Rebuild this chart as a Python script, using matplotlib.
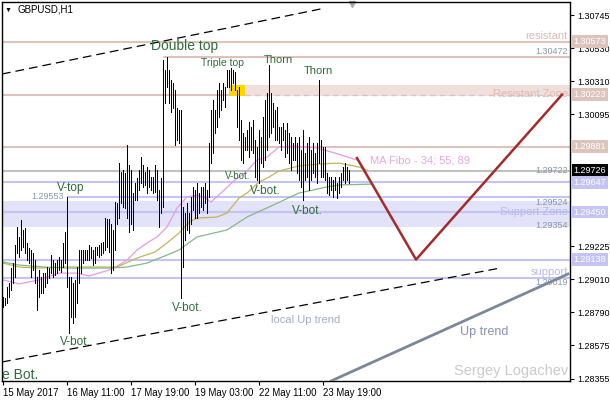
import matplotlib
matplotlib.use("Agg")
import matplotlib.pyplot as plt

plt.rcParams["font.family"] = ["Liberation Sans", "DejaVu Sans"]

# H1 bars, GBPUSD (high / low per bar)
highs = [
    1.28892, 1.28885, 1.28958, 1.28984, 1.29082, 1.29115, 1.29234, 1.29352, 1.29287, 1.29398,
    1.29333, 1.29346, 1.29247, 1.29214, 1.29201, 1.29181, 1.29135, 1.29023, 1.29069, 1.29023,
    1.29049, 1.29049, 1.29089, 1.29082, 1.29168, 1.29135, 1.29115, 1.29135, 1.29155, 1.29135,
    1.29247, 1.29320, 1.29553, 1.29023, 1.29023, 1.28984, 1.29004, 1.29089, 1.29201, 1.29201,
    1.29201, 1.29201, 1.29201, 1.29234, 1.29221, 1.29201, 1.29221, 1.29221, 1.29234, 1.29247,
    1.29254, 1.29411, 1.29405, 1.29405, 1.29372, 1.29333, 1.29517, 1.29510, 1.29773, 1.29714,
    1.29727, 1.29707, 1.29892, 1.29760, 1.29727, 1.29576, 1.29642, 1.29675, 1.29727, 1.29812,
    1.29760, 1.29714, 1.29747, 1.29727, 1.29681, 1.29681, 1.29760, 1.29727, 1.29596, 1.29675,
    1.30451, 1.30385, 1.30472, 1.30385, 1.30320, 1.30300, 1.30254, 1.30135, 1.30122, 1.30122,
    1.29484, 1.29444, 1.29510, 1.29444, 1.29550, 1.29616, 1.29596, 1.29642, 1.29576, 1.29616,
    1.29616, 1.29642, 1.29596, 1.29905, 1.30122, 1.30188, 1.30122, 1.30254, 1.30300, 1.30254,
    1.30300, 1.30274, 1.30385, 1.30385, 1.30399, 1.30385, 1.30372, 1.30254, 1.30274, 1.30056,
    1.29971, 1.29945, 1.29991, 1.30043, 1.30010, 1.30056, 1.29925, 1.29879, 1.29991, 1.29945,
    1.30076, 1.30188, 1.30234, 1.30418, 1.30234, 1.30168, 1.30122, 1.30142, 1.30010, 1.30010,
    1.30036, 1.29991, 1.30036, 1.29971, 1.29945, 1.29905, 1.29945, 1.29905, 1.29945, 1.29859,
    1.29991, 1.29839, 1.29905, 1.29945, 1.29859, 1.29905, 1.29839, 1.29905, 1.30320, 1.29925,
    1.29879, 1.29879, 1.29707, 1.29681, 1.29681, 1.29662, 1.29681, 1.29642, 1.29681, 1.29707,
    1.29747, 1.29773, 1.29747, 1.29727,
]
lows = [
    1.28826, 1.28839, 1.28852, 1.28892, 1.28938, 1.28984, 1.29023, 1.29181, 1.29155, 1.29201,
    1.29221, 1.29181, 1.29135, 1.29115, 1.29023, 1.29069, 1.28984, 1.28806, 1.28892, 1.28918,
    1.28918, 1.28958, 1.28984, 1.29017, 1.29049, 1.29023, 1.29036, 1.29049, 1.29069, 1.29056,
    1.29089, 1.29115, 1.28958, 1.28655, 1.28760, 1.28720, 1.28760, 1.28852, 1.28984, 1.29049,
    1.29115, 1.29135, 1.29135, 1.29135, 1.29148, 1.29102, 1.29115, 1.29168, 1.29155, 1.29168,
    1.29181, 1.29201, 1.29221, 1.29188, 1.29049, 1.29069, 1.29201, 1.29372, 1.29411, 1.29510,
    1.29484, 1.29477, 1.29411, 1.29320, 1.29372, 1.29333, 1.29530, 1.29530, 1.29596, 1.29642,
    1.29616, 1.29629, 1.29576, 1.29616, 1.29596, 1.29576, 1.29583, 1.29530, 1.29352, 1.29444,
    1.29484, 1.30168, 1.30274, 1.30168, 1.30109, 1.30135, 1.29892, 1.29925, 1.29905, 1.28885,
    1.29089, 1.29267, 1.29333, 1.29313, 1.29372, 1.29464, 1.29411, 1.29411, 1.29444, 1.29484,
    1.29464, 1.29510, 1.29444, 1.29550, 1.29773, 1.29839, 1.29971, 1.30010, 1.30076, 1.30122,
    1.30188, 1.30142, 1.30274, 1.30274, 1.30254, 1.30300, 1.30254, 1.30010, 1.29925, 1.29793,
    1.29773, 1.29859, 1.29859, 1.29813, 1.29859, 1.29839, 1.29681, 1.29662, 1.29642, 1.29773,
    1.29747, 1.29793, 1.29859, 1.29945, 1.29971, 1.30010, 1.29925, 1.29925, 1.29905, 1.29859,
    1.29925, 1.29813, 1.29839, 1.29773, 1.29727, 1.29793, 1.29793, 1.29707, 1.29662, 1.29616,
    1.29530, 1.29662, 1.29681, 1.29596, 1.29662, 1.29707, 1.29681, 1.29642, 1.29773, 1.29681,
    1.29681, 1.29662, 1.29576, 1.29563, 1.29596, 1.29550, 1.29596, 1.29543, 1.29576, 1.29616,
    1.29662, 1.29642, 1.29662, 1.29642,
]

# MA Fibo 34 / 55 / 89 (bar index, value)
ma34_idx = [0, 8, 18, 28, 37, 43, 53, 58, 62, 67, 72, 77, 82, 87, 92, 97, 101, 104, 109,
            116, 121, 127, 132, 138, 146, 157, 166, 177]
ma34_val = [1.29004, 1.28978, 1.29004, 1.29049, 1.29049, 1.29030, 1.29069, 1.29102, 1.29135,
            1.29201, 1.29247, 1.29287, 1.29352, 1.29477, 1.29550, 1.29563, 1.29543, 1.29517,
            1.29576, 1.29662, 1.29707, 1.29793, 1.29813, 1.29879, 1.29885, 1.29872, 1.29839,
            1.29793]
ma55_idx = [0, 8, 18, 32, 43, 57, 67, 76, 82, 88, 93, 97, 107, 112, 118, 122, 128, 133,
            138, 148, 158, 168, 178, 182]
ma55_val = [1.29115, 1.29089, 1.29082, 1.29089, 1.29089, 1.29089, 1.29148, 1.29188, 1.29247,
            1.29313, 1.29385, 1.29411, 1.29418, 1.29444, 1.29543, 1.29576, 1.29648, 1.29681,
            1.29721, 1.29754, 1.29767, 1.29773, 1.29747, 1.29727]
ma89_idx = [0, 8, 21, 32, 53, 62, 72, 82, 88, 97, 112, 122, 133, 148, 162, 168, 185]
ma89_val = [1.29122, 1.29102, 1.29089, 1.29082, 1.29082, 1.29089, 1.29115, 1.29168, 1.29201,
            1.29287, 1.29333, 1.29418, 1.29484, 1.29576, 1.29616, 1.29629, 1.29635]

# levels
resistant = 1.30573
double_top = 1.30472
res_zone = (1.30214, 1.30287)
res_zone_mid = 1.30223
res_level_2 = 1.29881
ma_level = 1.29722
last_price = 1.29726
blue_level = 1.29647
v_top = 1.29553
sup_zone = (1.29354, 1.29524)
sup_zone_mid = 1.29450
sup_level_2 = 1.29138
support = 1.29019

# trend lines (bar index, price)
upper_dash = ([-0.5, 161], [1.30359, 1.30793])
local_up = ([-0.5, 248.5], [1.28464, 1.29082])
up_trend = ([164, 282.5], [1.28339, 1.29043])
forecast = ([177, 206.5, 279.5], [1.29806, 1.29138, 1.30223])

yticks = [1.30745, 1.30530, 1.30310, 1.30095, 1.29225, 1.29010, 1.28790, 1.28575, 1.28355]
xticks = [0, 32, 64, 96, 128, 160]
xlabels = ["15 May 2017", "16 May 11:00", "17 May 19:00", "19 May 03:00",
           "22 May 11:00", "23 May 19:00"]

BROWN = "#dcc4bc"
BLUE = "#c4c4f4"
LBL = "#2f6e3a"
NUM = "#8a96a8"

fig = plt.figure(figsize=(6.1, 4.0), dpi=100)
ax = fig.add_axes([2 / 610, 19 / 400, 568 / 610, 379 / 400])
x0, x1 = -0.5, 283.5
ax.set_xlim(x0, x1)
ax.set_ylim(1.28339, 1.30833)

# zones and levels
ax.axhspan(*sup_zone, color="#e2e2f8", lw=0, zorder=0)
ax.fill_between([113, x1], res_zone[0], res_zone[1], color="#f0e0dc", lw=0, zorder=0)
for lv in [resistant, res_level_2]:
    ax.axhline(lv, color=BROWN, lw=1.5, zorder=1)
ax.hlines(double_top, 80, x1, color=BROWN, lw=1.5, zorder=1)
ax.hlines(res_zone_mid, x0, 113, color=BROWN, lw=1.5, zorder=1)
ax.hlines(res_zone_mid, 121, x1, color="#e4bcd4", lw=1, linestyles=(0, (4, 3)), zorder=1)
ax.axhline(ma_level, color="#c0c0c0", lw=1.5, zorder=1)
for lv in [blue_level, sup_zone_mid, sup_level_2, support]:
    ax.axhline(lv, color=BLUE, lw=1.5, zorder=1)
ax.hlines(v_top, 32, x1, color=BLUE, lw=1.5, zorder=1)
ax.fill_between([113, 121], res_zone[0], res_zone[1], color="#ffd700", lw=0, zorder=2)

# moving averages
ax.plot(ma34_idx, ma34_val, color="#e69ae6", lw=0.9, zorder=2)
ax.plot(ma55_idx, ma55_val, color="#c2b45e", lw=0.9, zorder=2)
ax.plot(ma89_idx, ma89_val, color="#86b886", lw=0.9, zorder=2)

# bars
ax.vlines(range(len(highs)), lows, highs, color="black", lw=0.7, zorder=3,
          antialiased=False)

# trend lines
ax.plot(*upper_dash, color="black", lw=0.9, dashes=(7, 4), zorder=4)
ax.plot(*local_up, color="black", lw=0.9, dashes=(7, 4), zorder=4)
ax.plot(*up_trend, color="#7a8898", lw=2.0, zorder=4)
ax.plot(*forecast, color="#a52a2a", lw=1.8, zorder=4)

# pattern labels
ax.text(91, 1.30543, "Double top", fontsize=10, color=LBL, ha="center", va="center", zorder=5)
ax.text(109.5, 1.30431, "Triple top", fontsize=7.5, color=LBL, ha="center", va="center", zorder=5)
ax.text(137.8, 1.30451, "Thorn", fontsize=8, color=LBL, ha="center", va="center", zorder=5)
ax.text(157.5, 1.30379, "Thorn", fontsize=8, color=LBL, ha="center", va="center", zorder=5)
ax.text(33.8, 1.29609, "V-top", fontsize=8.5, color=LBL, ha="center", va="center", zorder=5)
ax.text(117.5, 1.29688, "V-bot.", fontsize=7, color=LBL, ha="center", va="center", zorder=5)
ax.text(131, 1.29589, "V-bot.", fontsize=8.5, color=LBL, ha="center", va="center", zorder=5)
ax.text(152, 1.29458, "V-bot.", fontsize=8.5, color=LBL, ha="center", va="center", zorder=5)
ax.text(92, 1.28819, "V-bot.", fontsize=8.5, color=LBL, ha="center", va="center", zorder=5)
ax.text(36, 1.28596, "V-bot.", fontsize=8.5, color=LBL, ha="center", va="center", zorder=5)
ax.text(-0.5, 1.28379, "e Bot.", fontsize=10, color=LBL, ha="left", va="center", zorder=5)
ax.text(30.5, v_top, "1.29553", fontsize=6.5, color=NUM, ha="right", va="center", zorder=5)

ax.text(151.5, 1.28740, "local Up trend", fontsize=8, color="#a4acc8", ha="center", va="center")
ax.text(240.5, 1.28661, "Up trend", fontsize=9, color="#8890b0", ha="center", va="center")
ax.text(282.5, 1.28405, "Sergey Logachev", fontsize=10.5, color="#cacaca", ha="right", va="center")
ax.text(183.5, 1.29787, "MA Fibo - 34; 55; 89", fontsize=8, color="#e4a8e4", ha="left", va="center")

# right-side level captions
xr = 282.5
ax.text(xr, resistant + 0.00004, "resistant", fontsize=8, color="#dcbcb4", ha="right", va="bottom")
ax.text(xr, double_top + 0.00004, "1.30472", fontsize=6.5, color=NUM, ha="right", va="bottom")
ax.text(xr, res_zone_mid + 0.00003, "Resistant Zone", fontsize=8, color="#dcbcb4", ha="right", va="center")
ax.text(xr, ma_level, "1.29722", fontsize=6.5, color=NUM, ha="right", va="center")
ax.text(xr, sup_zone[1] - 0.00012, "1.29524", fontsize=6.5, color=NUM, ha="right", va="center")
ax.text(xr, sup_zone_mid, "Support Zone", fontsize=8, color="#b8b8ec", ha="right", va="center")
ax.text(xr, sup_zone[0] + 0.00010, "1.29354", fontsize=6.5, color=NUM, ha="right", va="center")
ax.text(xr, support + 0.00004, "support", fontsize=8, color="#b8b8ec", ha="right", va="bottom")
ax.text(xr, support - 0.00004, "1.29019", fontsize=6.5, color=NUM, ha="right", va="top")

# axes styling
for s in ax.spines.values():
    s.set_color("black")
    s.set_linewidth(1)
ax.yaxis.tick_right()
ax.set_yticks(yticks)
ax.set_yticklabels([f"{v:.5f}" for v in yticks])
ax.set_xticks(xticks)
ax.set_xticklabels(xlabels)
for lab in ax.get_xticklabels():
    lab.set_ha("left")
ax.tick_params(axis="both", direction="out", length=3, width=0.8, labelsize=6.5, pad=2)
ax.tick_params(axis="x", labelsize=6.9)

# price boxes on the axis
boxes = [(resistant, BROWN, "white"), (res_zone_mid, BROWN, "white"),
         (res_level_2, BROWN, "white"), (last_price, "black", "white"),
         (blue_level, BLUE, "white"), (sup_zone_mid, BLUE, "white"),
         (sup_level_2, BLUE, "white")]
for price, fc, tc in boxes:
    ax.annotate(f"{price:.5f}", xy=(1, price), xycoords=("axes fraction", "data"),
                xytext=(2.5, 0), textcoords="offset points", ha="left", va="center",
                fontsize=6.5, color=tc, annotation_clip=False, zorder=10,
                bbox=dict(boxstyle="square,pad=0.2", fc=fc, ec="none"))

# header and chart-shift marker
fig.text(5 / 610, 1 - 10 / 400, "\u25bc", fontsize=5, color="black", va="center")
fig.text(17 / 610, 1 - 10 / 400, "GBPUSD,H1", fontsize=7, color="black", va="center")
ax.plot([(352 - 2) / 568], [0.996], marker="v", color="#a8a8a8", ms=5,
        transform=ax.transAxes, clip_on=False)

fig.savefig("out.png", dpi=100)
